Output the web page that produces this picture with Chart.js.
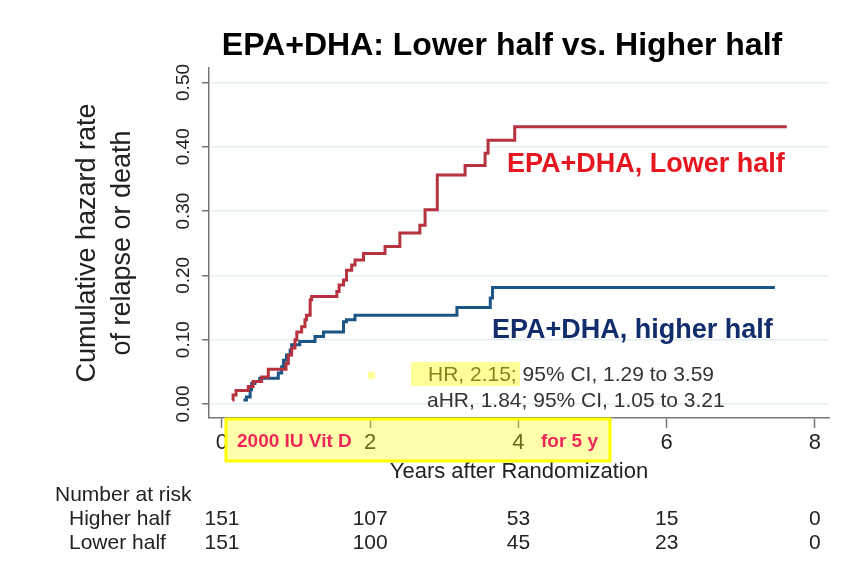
<!DOCTYPE html>
<html>
<head>
<meta charset="utf-8">
<script src="https://cdn.jsdelivr.net/npm/chart.js@4/dist/chart.umd.min.js"></script>
<style>
  body { margin: 0; background: #fff; }
  #wrap { width: 866px; height: 576px; }
</style>
</head>
<body>
<div id="wrap"><canvas id="canvas"></canvas></div>
<script>
// step points: time (years) where the curve jumps, and the new cumulative hazard
var lowerT = [0.14, 0.15, 0.19, 0.355, 0.42, 0.535, 0.625, 0.864, 0.895, 0.94, 0.985, 1.01, 1.075, 1.12, 1.14, 1.19, 1.21,
  1.55, 1.58, 1.64, 1.68, 1.75, 1.795, 1.91, 2.2, 2.4, 2.67, 2.74, 2.905, 3.28, 3.55, 3.59, 3.95, 7.62]
var lowerV = [0.006, 0.014, 0.021, 0.027, 0.035, 0.042, 0.054, 0.063, 0.076, 0.087, 0.100, 0.112, 0.120, 0.131, 0.138, 0.162, 0.167,
  0.175, 0.185, 0.193, 0.208, 0.216, 0.224, 0.234, 0.245, 0.266, 0.278, 0.302, 0.356, 0.371, 0.390, 0.410, 0.431, 0.431]
var higherT = [0.29, 0.33, 0.38, 0.40, 0.445, 0.51, 0.76, 0.805, 0.83, 0.87, 0.92, 0.94, 1.05, 1.255, 1.37, 1.64, 1.68, 1.795,
  3.17, 3.62, 3.65, 7.46]
var higherV = [0.006, 0.011, 0.022, 0.032, 0.035, 0.040, 0.048, 0.058, 0.068, 0.076, 0.084, 0.092, 0.097, 0.105, 0.112, 0.128, 0.131, 0.138,
  0.150, 0.165, 0.181, 0.181]

var xTicks = [0, 2, 4, 6, 8]
var xTickLabels = ['0', '2', '4', '6', '8']
var yTicks = [0, 0.1, 0.2, 0.3, 0.4, 0.5]
var yTickLabels = ['0.00', '0.10', '0.20', '0.30', '0.40', '0.50']

var riskRows = ['Higher half', 'Lower half']
var riskHigher = [151, 107, 53, 15, 0]
var riskLower = [151, 100, 45, 23, 0]

var FONT = '"Liberation Sans", Arial, sans-serif'

function pts(t, v) {
  var out = []
  t.map(function (x, i) { out.push({x: x, y: v[i]}) })
  return out
}

var extras = {
  id: 'extras',
  afterDraw: function (chart) {
    var ctx = chart.ctx
    var xs = chart.scales.x
    ctx.save()

    // title
    ctx.fillStyle = '#000'
    ctx.font = 'bold 32px ' + FONT
    ctx.textAlign = 'center'
    ctx.textBaseline = 'middle'
    ctx.fillText('EPA+DHA: Lower half vs. Higher half', 502, 46)

    // curve labels
    ctx.textAlign = 'left'
    ctx.font = 'bold 27px ' + FONT
    ctx.fillStyle = '#e5161f'
    ctx.fillText('EPA+DHA, Lower half', 507, 165)
    ctx.fillStyle = '#122d6b'
    ctx.fillText('EPA+DHA, higher half', 492, 331)

    // hazard ratios
    ctx.font = '21px ' + FONT
    ctx.fillStyle = '#333'
    ctx.fillText('HR, 2.15; 95% CI, 1.29 to 3.59', 428, 375)
    ctx.fillText('aHR, 1.84; 95% CI, 1.05 to 3.21', 427, 401)
    ctx.fillStyle = 'rgba(255,255,0,0.4)'
    ctx.fillRect(411, 362, 109, 24)
    ctx.fillRect(368, 372, 7, 7)

    // yellow box over the x axis
    ctx.fillStyle = 'rgba(255,255,0,0.33)'
    ctx.fillRect(226, 419, 384, 42)
    ctx.strokeStyle = '#ffff00'
    ctx.lineWidth = 3
    ctx.strokeRect(226, 419, 384, 42)
    ctx.font = 'bold 19px ' + FONT
    ctx.fillStyle = '#f0285a'
    ctx.fillText('2000 IU Vit D', 237, 442)
    ctx.fillText('for 5 y', 541, 442)

    // number at risk table
    ctx.font = '21px ' + FONT
    ctx.fillStyle = '#222'
    ctx.fillText('Number at risk', 55, 495)
    ctx.fillText(riskRows[0], 69, 519)
    ctx.fillText(riskRows[1], 69, 543)
    ctx.textAlign = 'center'
    xTicks.map(function (t, i) {
      var px = xs.getPixelForValue(t)
      ctx.fillText(String(riskHigher[i]), px, 519)
      ctx.fillText(String(riskLower[i]), px, 543)
    })
    ctx.restore()
  }
}

var ctx = document.getElementById('canvas').getContext('2d')
var chart = new Chart(ctx, {
  type: 'line',
  data: {
    datasets: [{
      label: 'EPA+DHA, Lower half',
      data: pts(lowerT, lowerV),
      borderColor: '#b5323e',
      borderWidth: 3,
      stepped: true,
      pointRadius: 0,
      fill: false
    }, {
      label: 'EPA+DHA, higher half',
      data: pts(higherT, higherV),
      borderColor: '#1a5585',
      borderWidth: 3,
      stepped: true,
      pointRadius: 0,
      fill: false
    }]
  },
  options: {
    responsive: true,
    maintainAspectRatio: false,
    animation: false,
    layout: { padding: { top: 68, right: 37, bottom: 0, left: 0 } },
    plugins: {
      legend: { display: false },
      tooltip: { enabled: false }
    },
    scales: {
      x: {
        type: 'linear',
        min: -0.175,
        max: 8.19,
        afterBuildTicks: function (s) { s.ticks = xTicks.map(function (v) { return {value: v} }) },
        afterFit: function (s) { s.height = 158 },
        ticks: {
          callback: function (v, i) { return xTickLabels[i] },
          font: { family: FONT, size: 22 },
          color: '#222',
          padding: 2,
          maxRotation: 0
        },
        grid: { drawOnChartArea: false, tickLength: 10, tickColor: '#777', tickWidth: 1.5 },
        border: { color: '#777', width: 1.5 },
        title: {
          display: true,
          text: 'Years after Randomization',
          font: { family: FONT, size: 22 },
          color: '#222',
          padding: { top: 0, bottom: 91 }
        }
      },
      y: {
        min: -0.0218,
        max: 0.5225,
        afterBuildTicks: function (s) { s.ticks = yTicks.map(function (v) { return {value: v} }) },
        afterFit: function (s) { s.width = 209 },
        ticks: {
          callback: function (v, i) { return yTickLabels[i] },
          font: { family: FONT, size: 19 },
          color: '#222',
          minRotation: 90,
          maxRotation: 90,
          crossAlign: 'center',
          padding: 0
        },
        grid: { color: '#e3eef3', lineWidth: 1.5, tickLength: 7, tickColor: '#777', tickWidth: 1.5 },
        border: { color: '#777', width: 1.5 },
        title: {
          display: true,
          text: ['Cumulative hazard rate', 'of relapse or death'],
          font: { family: FONT, size: 27, lineHeight: 1.3 },
          color: '#222',
          padding: { top: 70, bottom: 0 }
        }
      }
    }
  },
  plugins: [extras]
})
</script>
</body>
</html>
